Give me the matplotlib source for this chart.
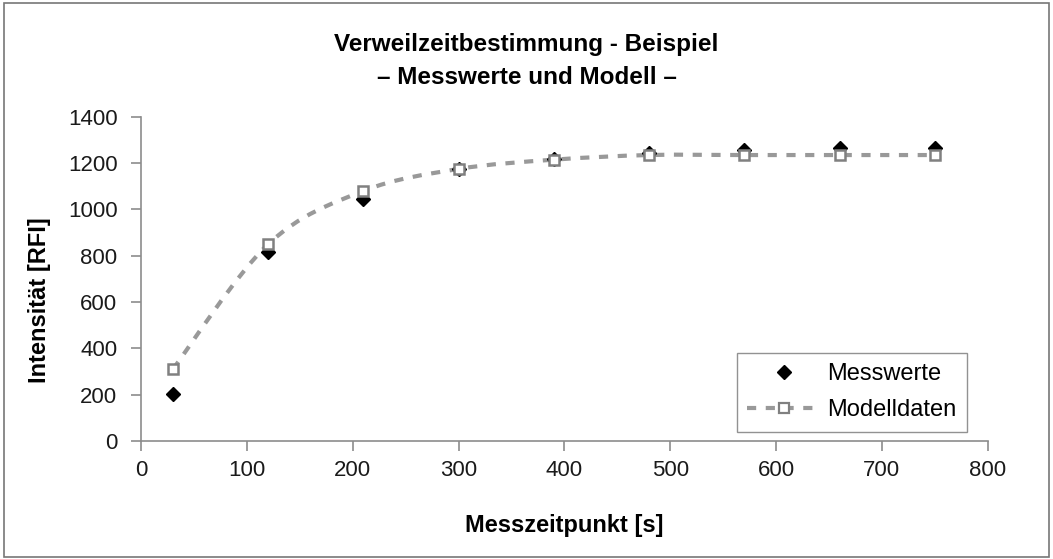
import matplotlib
matplotlib.use("Agg")
import matplotlib.pyplot as plt
from matplotlib.path import Path
import matplotlib.patches as mpatches
import numpy as np

plt.rcParams['font.family'] = ['Liberation Sans', 'DejaVu Sans']

# Messzeitpunkte und Intensitäten
zeit = [30, 120, 210, 300, 390, 480, 570, 660, 750]
messwerte = [205, 815, 1045, 1175, 1220, 1245, 1255, 1265, 1265]
modelldaten = [310, 850, 1080, 1175, 1215, 1235, 1235, 1235, 1235]

grau = '#999999'
achse = '#8c8c8c'
strich = (0, (2.2, 2.3))


def glatte_kurve(x, y, t=1/6):
    # Bezier-Pfad durch die Punkte (wie geglättete Linie in Excel)
    x = np.asarray(x, float)
    y = np.asarray(y, float)
    verts = [(x[0], y[0])]
    codes = [Path.MOVETO]
    n = len(x)
    for i in range(n - 1):
        x0, y0 = (x[i - 1], y[i - 1]) if i > 0 else (x[i], y[i])
        x3, y3 = (x[i + 2], y[i + 2]) if i + 2 < n else (x[i + 1], y[i + 1])
        c1 = (x[i] + (x[i + 1] - x0) * t, y[i] + (y[i + 1] - y0) * t)
        c2 = (x[i + 1] - (x3 - x[i]) * t, y[i + 1] - (y3 - y[i]) * t)
        verts += [c1, c2, (x[i + 1], y[i + 1])]
        codes += [Path.CURVE4] * 3
    return Path(verts, codes)


fig = plt.figure(figsize=(10.53, 5.59), dpi=100)
fig.patches.append(mpatches.Rectangle((0.004, 0.004), 0.992, 0.99, transform=fig.transFigure,
                                      fill=False, edgecolor='#777777', linewidth=1.2))
ax = fig.add_axes([0.134, 0.211, 0.804, 0.58])

kurve = mpatches.PathPatch(glatte_kurve(zeit, modelldaten), fill=False, edgecolor=grau,
                           linewidth=3, linestyle=strich, zorder=2)
ax.add_patch(kurve)
ax.plot(zeit, messwerte, linestyle='none', marker='D', markersize=7.5, color='black',
        zorder=3, label='Messwerte')
ax.plot(zeit, modelldaten, linestyle='none', marker='s', markersize=7,
        markerfacecolor='white', markeredgecolor='#808080', markeredgewidth=1.8, zorder=4)
# Legendeneintrag für Modell (Linie + Marker)
ax.plot([], [], linestyle=strich, linewidth=3, color=grau, marker='s', markersize=7,
        markerfacecolor='white', markeredgecolor='#808080', markeredgewidth=1.6,
        label='Modelldaten')

ax.set_xlim(0, 800)
ax.set_ylim(0, 1400)
ax.set_xticks(range(0, 801, 100))
ax.set_yticks(range(0, 1401, 200))
for s in ['top', 'right']:
    ax.spines[s].set_visible(False)
for s in ['left', 'bottom']:
    ax.spines[s].set_color(achse)
    ax.spines[s].set_linewidth(1.2)
ax.tick_params(axis='both', colors=achse, length=7, width=1.2, labelsize=16,
               labelcolor='#1a1a1a')
ax.tick_params(axis='y', pad=10)
ax.tick_params(axis='x', pad=7)

ax.set_xlabel('Messzeitpunkt [s]', fontsize=17, fontweight='bold')
ax.xaxis.set_label_coords(0.5, -0.225)
ax.set_ylabel('Intensität [RFI]', fontsize=17, fontweight='bold')
ax.yaxis.set_label_coords(-0.107, 0.435)

fig.text(0.5, 1 - 45 / 559, 'Verweilzeitbestimmung - Beispiel', ha='center', va='center',
         fontsize=17.5, fontweight='bold')
fig.text(0.5, 1 - 78 / 559, '– Messwerte und Modell –', ha='center', va='center',
         fontsize=17.5, fontweight='bold')

leg = ax.legend(loc='lower right', bbox_to_anchor=(0.976, 0.028), fontsize=17, frameon=True,
                fancybox=False, edgecolor='#777777', handlelength=3.1, borderpad=0.45,
                labelspacing=0.6, handletextpad=0.3, borderaxespad=0)
leg.get_frame().set_linewidth(1.0)

fig.savefig('out.png', dpi=100)
